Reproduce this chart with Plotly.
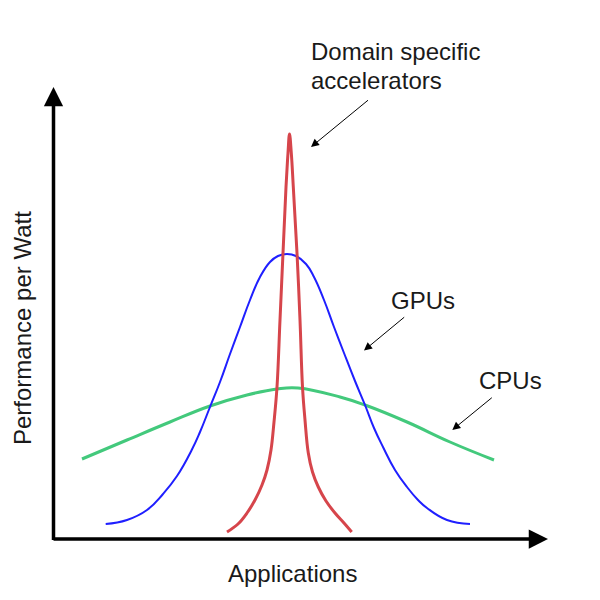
import plotly.graph_objects as go

# Data (x = application position, y = performance per watt)
dsa_x = [227, 238, 247, 255, 262, 267, 271, 274, 277, 280, 283, 286, 288, 289.5,
         291.3, 293.3, 297, 300, 302.5, 305, 308.3, 312.5, 318.3, 326, 335, 344, 351.7]
dsa_y = [8, 16, 27, 40, 55, 70, 90, 118, 153, 220, 287, 353, 387, 406,
         387, 353, 287, 220, 153, 120, 87, 68, 53, 39, 27, 17, 8]

gpu_x = [105.7, 127, 147, 163, 177, 191.7, 200, 210, 220, 230, 240, 250, 260, 270, 278, 287,
         296, 306, 314, 324, 334, 344, 355, 365, 374, 383, 395, 407, 418, 427, 447, 470]
gpu_y = [16, 20, 30, 46, 64, 90, 108, 133, 158, 186, 213, 240, 263, 278, 284, 286,
         284, 276, 263, 240, 213, 187, 159, 135, 112, 93, 70, 53, 40, 32, 20, 16]

cpu_x = [82, 127, 170, 210, 247, 277, 298, 340, 365, 407, 450, 494]
cpu_y = [81, 100, 118, 134, 145, 151, 152, 143, 135, 118, 98, 80]

series_names = ["Domain specific", "accelerators", "GPUs", "CPUs"]
x_label = "Applications"
y_label = "Performance per Watt"

FONT = "Liberation Sans, Arial, sans-serif"
TXT = "#1a1a1a"
FS = 24

fig = go.Figure()
fig.add_trace(go.Scatter(x=cpu_x, y=cpu_y, mode="lines",
                         line=dict(color="#43c97c", width=3, shape="spline", smoothing=1.2), hoverinfo="skip"))
fig.add_trace(go.Scatter(x=gpu_x, y=gpu_y, mode="lines",
                         line=dict(color="#1f1fff", width=2, shape="spline", smoothing=1.3), hoverinfo="skip"))
fig.add_trace(go.Scatter(x=dsa_x, y=dsa_y, mode="lines",
                         line=dict(color="#d6454b", width=3, shape="spline", smoothing=1.1), hoverinfo="skip"))

ann = []
# axes with arrows
ann.append(dict(x=53.5, y=453, ax=53.5, ay=-1.5, xref="x", yref="y", axref="x", ayref="y", text="",
                showarrow=True, arrowhead=2, arrowsize=1.1, arrowwidth=3.5, arrowcolor="black"))
ann.append(dict(x=548, y=1, ax=52, ay=1, xref="x", yref="y", axref="x", ayref="y", text="",
                showarrow=True, arrowhead=2, arrowsize=1.1, arrowwidth=3.5, arrowcolor="black"))
# pointer arrows
for (tx, ty, hx, hy) in [(369.5, 441, 311, 393), (405.7, 224, 364, 189.5), (493.3, 143.5, 452.3, 110)]:
    ann.append(dict(x=hx, y=hy, ax=tx, ay=ty, xref="x", yref="y", axref="x", ayref="y", text="",
                    showarrow=True, arrowhead=2, arrowsize=1.6, arrowwidth=1, arrowcolor="black"))
# labels
ann.append(dict(x=309, y=489, xref="x", yref="y", text=series_names[0], showarrow=False, xanchor="left",
                yanchor="middle", align="left", font=dict(family=FONT, size=FS, color=TXT)))
ann.append(dict(x=309, y=460, xref="x", yref="y", text=series_names[1], showarrow=False, xanchor="left",
                yanchor="middle", align="left", font=dict(family=FONT, size=FS, color=TXT)))
ann.append(dict(x=423.3, y=240, xref="x", yref="y", text=series_names[2], showarrow=False, xanchor="center",
                yanchor="middle", font=dict(family=FONT, size=FS, color=TXT)))
ann.append(dict(x=510, y=160, xref="x", yref="y", text=series_names[3], showarrow=False, xanchor="center",
                yanchor="middle", font=dict(family=FONT, size=FS, color=TXT)))
ann.append(dict(x=292, y=-33, xref="x", yref="y", text=x_label, showarrow=False, xanchor="center",
                yanchor="middle", font=dict(family=FONT, size=FS, color=TXT)))
ann.append(dict(x=22, y=212, xref="x", yref="y", text=y_label, showarrow=False, textangle=-90, xanchor="center",
                yanchor="middle", font=dict(family=FONT, size=FS, color=TXT)))

fig.update_layout(
    width=600, height=600,
    margin=dict(l=0, r=0, t=0, b=0),
    paper_bgcolor="white", plot_bgcolor="white",
    showlegend=False,
    xaxis=dict(range=[0, 600], visible=False, fixedrange=True),
    yaxis=dict(range=[-60, 540], visible=False, fixedrange=True),
    annotations=ann,
)
fig.write_html("out.html")
